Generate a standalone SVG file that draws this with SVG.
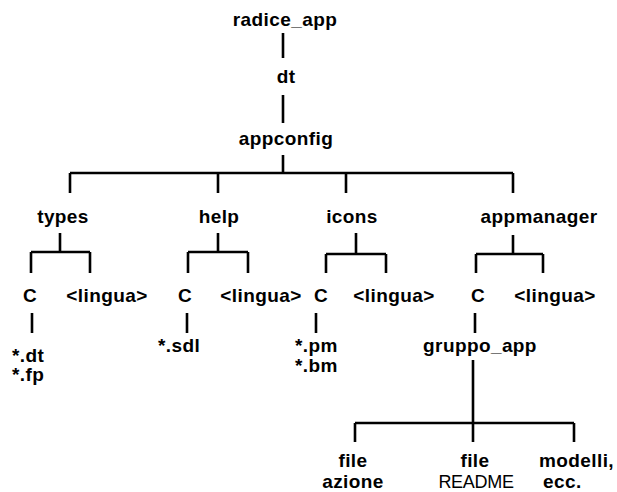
<svg xmlns="http://www.w3.org/2000/svg" width="617" height="492" viewBox="0 0 617 492">
<style>
text{font-family:"Liberation Sans",Arial,sans-serif;font-size:19px;font-weight:bold;letter-spacing:0.4px;fill:#000}
.m{text-anchor:middle}
.n{font-weight:normal;font-size:18px;letter-spacing:-0.3px}
#connectors path{fill:none;stroke:#000;stroke-width:2.6}
</style>
<rect width="617" height="492" fill="#fff"/>
<g id="connectors">
<path d="M283 33V58M283 95V123M283 155V173M70 173H513M70 173V193M218 173V193M346 173V193M513 173V193"/>
<path d="M60 233V252M31 252H90M31 252V273M90 252V273"/>
<path d="M218 233V252M188 252H248M188 252V273M248 252V273"/>
<path d="M356 233V254M326 254H386M326 254V273M386 254V273"/>
<path d="M513 235V254M476 254H543M476 254V273M543 254V273"/>
<path d="M32 313V333M187 313V333M316 313V333M475 313V333"/>
<path d="M473 360V423M355 423H574M355 423V442M473 423V442M574 423V442"/>
</g>
<g id="radice_app"><text class="m" x="285" y="26">radice_app</text></g>
<g id="dt"><text class="m" x="286" y="83">dt</text></g>
<g id="appconfig"><text class="m" x="286" y="145">appconfig</text></g>
<g id="types"><text class="m" x="63" y="223">types</text></g>
<g id="help"><text class="m" x="219" y="223">help</text></g>
<g id="icons"><text class="m" x="352" y="223">icons</text></g>
<g id="appmanager"><text class="m" x="539" y="223">appmanager</text></g>
<g id="types_C"><text class="m" x="30" y="302">C</text></g>
<g id="types_lingua"><text class="m" x="107" y="302">&lt;lingua&gt;</text></g>
<g id="help_C"><text class="m" x="185" y="302">C</text></g>
<g id="help_lingua"><text class="m" x="261" y="302">&lt;lingua&gt;</text></g>
<g id="icons_C"><text class="m" x="321" y="302">C</text></g>
<g id="icons_lingua"><text class="m" x="394" y="302">&lt;lingua&gt;</text></g>
<g id="appmanager_C"><text class="m" x="478" y="302">C</text></g>
<g id="appmanager_lingua"><text class="m" x="555" y="302">&lt;lingua&gt;</text></g>
<g id="types_files"><text x="12" y="362">*.dt</text><text x="12" y="381">*.fp</text></g>
<g id="help_files"><text x="158" y="352">*.sdl</text></g>
<g id="icons_files"><text x="295" y="352">*.pm</text><text x="295" y="372">*.bm</text></g>
<g id="gruppo_app"><text class="m" x="480" y="352">gruppo_app</text></g>
<g id="file_azione"><text class="m" x="353" y="467">file</text><text class="m" x="353" y="488">azione</text></g>
<g id="file_readme"><text class="m" x="475" y="467">file</text><text class="m n" x="476" y="488">README</text></g>
<g id="modelli"><text x="539" y="467">modelli,</text><text x="543" y="488">ecc.</text></g>
</svg>
